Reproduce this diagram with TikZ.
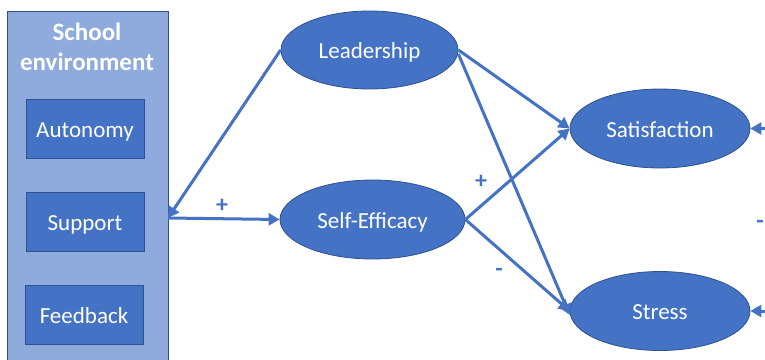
\documentclass[tikz,border=0pt]{standalone}
\usepackage{fontspec}
\setmainfont{Carlito}
\usetikzlibrary{arrows.meta,shapes.geometric}
\definecolor{ellfill}{HTML}{4472C4}
\definecolor{ellline}{HTML}{2F528F}
\definecolor{boxfill}{HTML}{8FAADC}
\definecolor{arr}{HTML}{4472C4}
\tikzset{
  latent/.style={ellipse, draw=ellline, line width=0.8pt, fill=ellfill, text=white, font=\fontsize{23}{26}\selectfont, inner sep=0pt, text height=22pt, text depth=5pt},
  itembox/.style={rectangle, draw=ellline, line width=0.8pt, fill=ellfill, text=white, font=\fontsize{23}{26}\selectfont, minimum width=118pt, minimum height=59pt, text height=22pt, text depth=5pt},
  path/.style={draw=arr, line width=3pt, -{Triangle[length=11pt,width=12pt]}, shorten >=0pt},
  sign/.style={text=arr, font=\bfseries\fontsize{24}{26}\selectfont}
}
\begin{document}
\begin{tikzpicture}[x=1pt,y=-1pt]
\useasboundingbox (0,0) rectangle (765,359);
\clip (0,0) rectangle (765,359);
\fill[white] (0,0) rectangle (765,359);
% School environment box
\node[rectangle, draw=ellline, line width=0.8pt, fill=boxfill, minimum width=161pt, minimum height=370pt, anchor=north west, inner sep=0pt] (env) at (7,11) {};
\node[text=white, font=\bfseries\fontsize{25}{30}\selectfont, align=center] (envlabel) at (87,47) {School\\environment};
\node[itembox] (auto) at (85,129) {Autonomy};
\node[itembox] (supp) at (85,222) {Support};
\node[itembox] (feed) at (84,315) {Feedback};
\coordinate (envR) at (168,218);
% latent ellipses
\node[latent, minimum width=177pt, minimum height=78pt] (lead) at (369.5,50) {Leadership};
\node[latent, minimum width=185pt, minimum height=79pt] (self) at (372.5,219.5) {Self-Efficacy};
\node[latent, minimum width=180pt, minimum height=79pt] (sat) at (660,128.5) {Satisfaction};
\node[latent, minimum width=180pt, minimum height=79pt] (str) at (660,311) {Stress};
% connectors
\draw[path] (lead.west) -- (envR);
\draw[path] (envR) -- (self.west);
\draw[path] (lead.east) -- (sat.west);
\draw[path] ([yshift=-4pt]lead.east) -- ([yshift=-4pt]str.west);
\draw[path] (self.east) -- (sat.west);
\draw[path] (self.east) -- (str.west);
\coordinate (r1) at (800,128.5);
\coordinate (r2) at (800,311);
\draw[path] (r1) -- (sat.east);
\draw[path] (r2) -- (str.east);
% signs
\node[sign] (p1) at (222,206) {+};
\node[sign] (p2) at (481,182) {+};
\node[sign] (m1) at (499,272) {-};
\node[sign] (m2) at (760,224) {-};
\end{tikzpicture}
\end{document}
